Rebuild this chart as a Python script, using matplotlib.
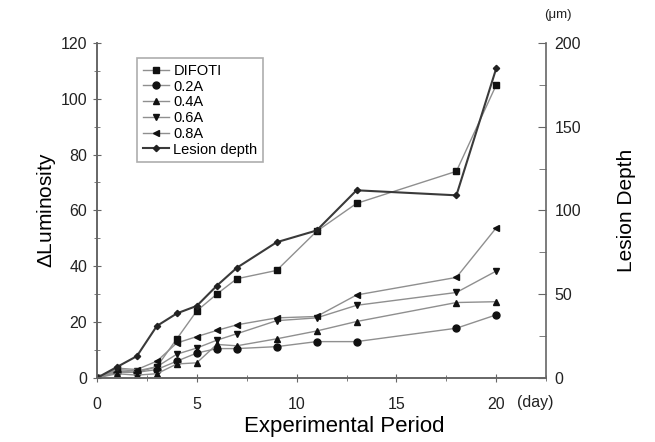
import matplotlib
matplotlib.use("Agg")
import matplotlib.pyplot as plt
from matplotlib.ticker import MultipleLocator

plt.rcParams['font.family'] = ['Liberation Sans', 'DejaVu Sans']
plt.rcParams['mathtext.fontset'] = 'custom'
plt.rcParams['mathtext.rm'] = 'Liberation Sans'
plt.rcParams['mathtext.it'] = 'Liberation Sans:italic'

days = [0, 1, 2, 3, 4, 5, 6, 7, 9, 11, 13, 18, 20]
difoti = [0, 2.5, 2, 4, 14, 24, 30, 35.5, 38.5, 52.5, 62.5, 74, 105]
a02 = [0, 2, 2, 3, 6, 8.9, 10.5, 10.5, 11.2, 13, 13, 17.8, 22.6]
a04 = [0, 1.5, 1, 1.5, 5, 5.4, 12, 11.5, 14, 16.8, 20.2, 27, 27.3]
a06 = [0, 3, 2.5, 4, 8.5, 10.7, 13.5, 15.8, 20.5, 21.5, 26, 30.6, 38.3]
a08 = [0, 3.5, 3, 6, 12.5, 14.8, 17, 19, 21.5, 22, 29.7, 36, 53.8]
lesion_depth = [0, 6.5, 13, 31, 38.5, 43, 55, 65.7, 81, 88, 112, 109, 185]

fig = plt.figure(figsize=(6.55, 4.42), dpi=100)
ax = fig.add_axes([0.148, 0.145, 0.686, 0.758])
ax2 = ax.twinx()

lc = '#8f8f8f'
mc = '#111111'
kw = dict(color=lc, lw=1.0, markersize=5, markerfacecolor=mc, markeredgecolor=mc)
h1, = ax.plot(days, difoti, marker='s', label='DIFOTI', **kw)
h2, = ax.plot(days, a02, marker='o', label='0.2A', **kw)
h3, = ax.plot(days, a04, marker='^', label='0.4A', **kw)
h4, = ax.plot(days, a06, marker='v', label='0.6A', **kw)
h5, = ax.plot(days, a08, marker='<', label='0.8A', **kw)
h6, = ax2.plot(days, lesion_depth, marker='D', color='#3a3a3a', lw=1.5,
               markersize=3.2, markerfacecolor='#222222', markeredgecolor='#222222',
               label='Lesion depth')

ax.set_xlim(0, 22.5)
ax.set_ylim(0, 120)
ax2.set_ylim(0, 200)

ax.xaxis.set_major_locator(MultipleLocator(5))
ax.xaxis.set_minor_locator(MultipleLocator(2.5))
ax.set_xticks([0, 5, 10, 15, 20])
ax.yaxis.set_major_locator(MultipleLocator(20))
ax.yaxis.set_minor_locator(MultipleLocator(10))
ax2.yaxis.set_major_locator(MultipleLocator(50))
ax2.yaxis.set_minor_locator(MultipleLocator(25))

spine_c = '#666666'
for a in (ax, ax2):
    a.spines['top'].set_visible(False)
    for s in a.spines.values():
        s.set_color(spine_c)
        s.set_linewidth(1.2)
ax.spines['right'].set_visible(False)

ax.tick_params(axis='y', which='both', direction='inout', color=spine_c,
               labelsize=11.5, labelcolor='#222222', pad=4)
ax.tick_params(axis='x', which='both', direction='inout', color=spine_c,
               labelsize=11.5, labelcolor='#222222', pad=11)
ax.tick_params(axis='both', which='major', length=6)
ax.tick_params(axis='both', which='minor', length=5)
ax2.tick_params(axis='y', which='both', direction='in', color=spine_c,
                labelsize=11.5, labelcolor='#222222', pad=6)
ax2.tick_params(axis='y', which='major', length=6)
ax2.tick_params(axis='y', which='minor', length=5)

ax.set_xlabel('Experimental Period', fontsize=16)
ax.xaxis.set_label_coords(0.55, -0.115)
ax.set_ylabel(r'$\mathit{\Delta}$Luminosity', fontsize=15, labelpad=2)
ax2.set_ylabel('Lesion Depth', fontsize=15, labelpad=26)

fig.text(0.79, 0.09, '(day)', fontsize=11.5, color='#222222', ha='left', va='center')
fig.text(0.852, 0.965, '(μm)', fontsize=9.5, color='#222222', ha='center', va='center')

leg = ax.legend(handles=[h1, h2, h3, h4, h5, h6], loc='upper left',
                bbox_to_anchor=(0.089, 0.955), fontsize=10.5, frameon=True,
                fancybox=False, edgecolor='#999999', handlelength=1.8,
                labelspacing=0.12, borderpad=0.4, handletextpad=0.3,
                borderaxespad=0)
leg.get_frame().set_linewidth(1.2)

fig.savefig('out.png', dpi=100)
